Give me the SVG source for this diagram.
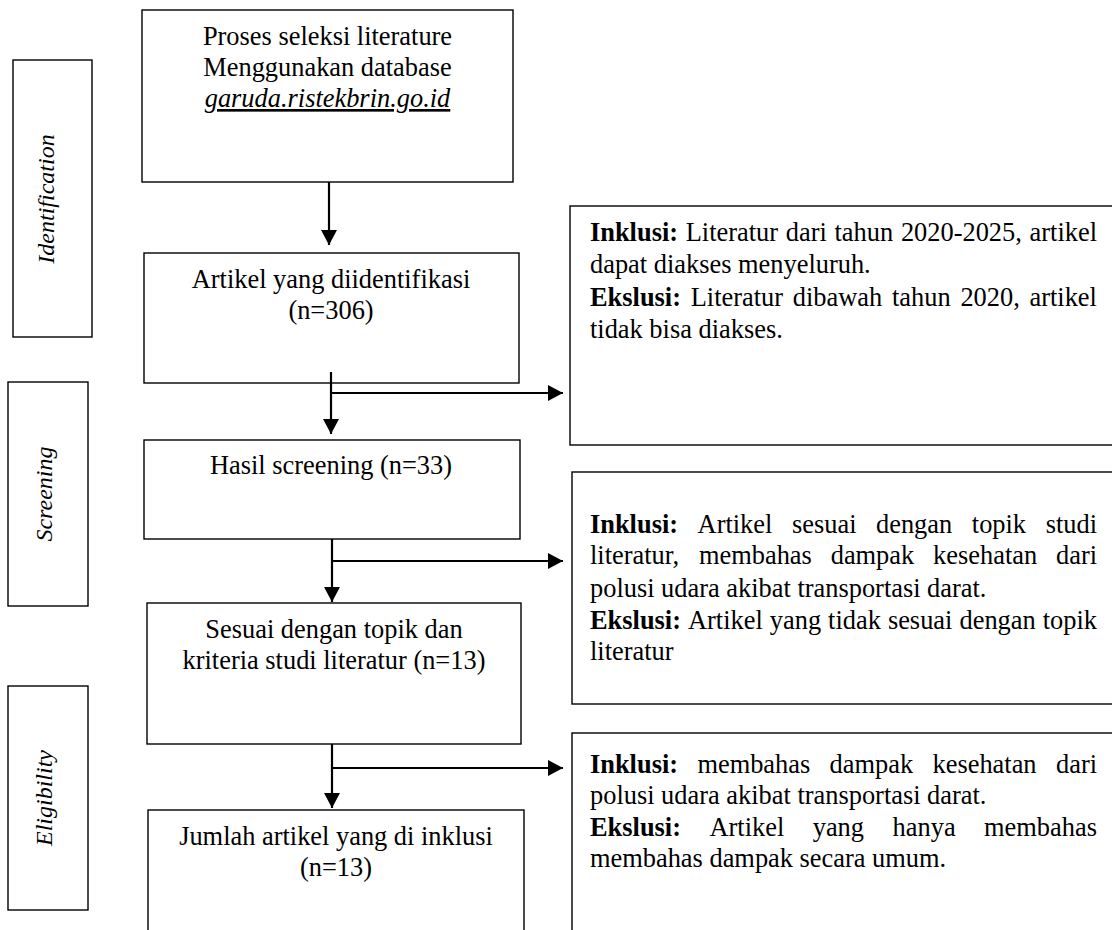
<svg xmlns="http://www.w3.org/2000/svg" width="1112" height="930" viewBox="0 0 1112 930">
<style>
.box{fill:#fff;stroke:#000;stroke-width:1.4}
.t{font-family:"Liberation Serif","Times New Roman",serif;font-size:26.4px;fill:#000}
.c{text-anchor:middle}
.lab{font-family:"Liberation Serif","Times New Roman",serif;font-size:24px;font-style:italic;fill:#000;text-anchor:middle}
.b{font-weight:bold}
.con{fill:none;stroke:#000;stroke-width:2.2}
</style>
<defs>
<marker id="ah" viewBox="0 0 15 16" refX="15" refY="8" markerWidth="15" markerHeight="16" markerUnits="userSpaceOnUse" orient="auto">
<path d="M0,0 L15,8 L0,16 Z" fill="#000"/>
</marker>
</defs>
<rect width="1112" height="930" fill="#fff"/>

<g id="label-identification">
<rect class="box" x="13" y="60" width="79" height="277"/>
<text class="lab" transform="translate(54,199) rotate(-90)">Identification</text>
</g>
<g id="label-screening">
<rect class="box" x="8" y="382" width="80" height="224"/>
<text class="lab" transform="translate(52,494) rotate(-90)">Screening</text>
</g>
<g id="label-eligibility">
<rect class="box" x="8" y="686" width="80" height="224"/>
<text class="lab" transform="translate(52,798) rotate(-90)">Eligibility</text>
</g>

<g id="node-proses">
<rect class="box" x="142" y="10" width="371" height="172"/>
<text class="t c" x="327.5" y="45">Proses seleksi literature</text>
<text class="t c" x="327.5" y="76">Menggunakan database</text>
<text class="t c" x="327.5" y="107" font-style="italic" text-decoration="underline">garuda.ristekbrin.go.id</text>
</g>
<g id="node-identified">
<rect class="box" x="144" y="253" width="375" height="130"/>
<text class="t c" x="331" y="288">Artikel yang diidentifikasi</text>
<text class="t c" x="331" y="319">(n=306)</text>
</g>
<g id="node-screening">
<rect class="box" x="144" y="440" width="376" height="99"/>
<text class="t c" x="331" y="474">Hasil screening (n=33)</text>
</g>
<g id="node-sesuai">
<rect class="box" x="147" y="603" width="374" height="141"/>
<text class="t c" x="334" y="638">Sesuai dengan topik dan</text>
<text class="t c" x="334" y="669">kriteria studi literatur (n=13)</text>
</g>
<g id="node-jumlah">
<rect class="box" x="148" y="810" width="376" height="140"/>
<text class="t c" x="336" y="845">Jumlah artikel yang di inklusi</text>
<text class="t c" x="336" y="876">(n=13)</text>
</g>

<g id="node-kriteria1">
<rect class="box" x="570" y="206" width="560" height="239"/>
<text class="t" y="241"><tspan class="b" x="590">Inklusi:</tspan><tspan x="685.7">Literatur</tspan><tspan x="785.8">dari</tspan><tspan x="834.5">tahun</tspan><tspan x="900.9">2020-2025,</tspan><tspan x="1029.6">artikel</tspan></text>
<text class="t" x="590" y="273">dapat diakses menyeluruh.</text>
<text class="t" y="306"><tspan class="b" x="590">Ekslusi:</tspan><tspan x="690.7">Literatur</tspan><tspan x="792.8">dibawah</tspan><tspan x="892">tahun</tspan><tspan x="960.4">2020,</tspan><tspan x="1029.5">artikel</tspan></text>
<text class="t" x="590" y="338">tidak bisa diakses.</text>
</g>
<g id="node-kriteria2">
<rect class="box" x="572" y="472" width="560" height="232"/>
<text class="t" y="533"><tspan class="b" x="590">Inklusi:</tspan><tspan x="697.6">Artikel</tspan><tspan x="792">sesuai</tspan><tspan x="876">dengan</tspan><tspan x="971.8">topik</tspan><tspan x="1045.7">studi</tspan></text>
<text class="t" y="564"><tspan x="590">literatur,</tspan><tspan x="699">membahas</tspan><tspan x="830.7">dampak</tspan><tspan x="933.1">kesehatan</tspan><tspan x="1056">dari</tspan></text>
<text class="t" x="590" y="597">polusi udara akibat transportasi darat.</text>
<text class="t" y="629"><tspan class="b" x="590">Ekslusi:</tspan><tspan x="688">Artikel</tspan><tspan x="769.8">yang</tspan><tspan x="828.1">tidak</tspan><tspan x="887.9">sesuai</tspan><tspan x="959.5">dengan</tspan><tspan x="1042.7">topik</tspan></text>
<text class="t" x="590" y="660">literatur</text>
</g>
<g id="node-kriteria3">
<rect class="box" x="572" y="733" width="560" height="220"/>
<text class="t" y="773"><tspan class="b" x="590">Inklusi:</tspan><tspan x="697.4">membahas</tspan><tspan x="829.6">dampak</tspan><tspan x="932.5">kesehatan</tspan><tspan x="1056">dari</tspan></text>
<text class="t" x="590" y="804">polusi udara akibat transportasi darat.</text>
<text class="t" y="836"><tspan class="b" x="590">Ekslusi:</tspan><tspan x="709.5">Artikel</tspan><tspan x="812.7">yang</tspan><tspan x="892.6">hanya</tspan><tspan x="984.1">membahas</tspan></text>
<text class="t" x="590" y="867">membahas dampak secara umum.</text>
</g>

<g id="connectors">
<path class="con" d="M329,182 V245" marker-end="url(#ah)"/>
<path class="con" d="M331,372 V434" marker-end="url(#ah)"/>
<path class="con" d="M331,393 H563" marker-end="url(#ah)"/>
<path class="con" d="M332,539 V602" marker-end="url(#ah)"/>
<path class="con" d="M332,561 H563" marker-end="url(#ah)"/>
<path class="con" d="M332,744 V808" marker-end="url(#ah)"/>
<path class="con" d="M332,768 H563" marker-end="url(#ah)"/>
</g>
</svg>
